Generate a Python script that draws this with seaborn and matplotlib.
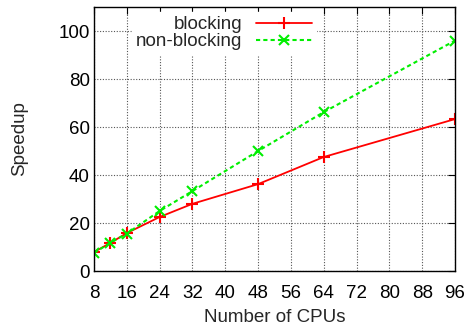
import matplotlib
matplotlib.use("Agg")
import matplotlib.pyplot as plt
import seaborn as sns
import pandas as pd

cpus = [8, 12, 16, 24, 32, 48, 64, 96]
blocking = [7.9, 11.7, 15.8, 22.5, 28.0, 36.2, 47.5, 63.3]
nonblocking = [7.5, 11.8, 15.6, 25.0, 33.3, 50.0, 66.2, 96.0]
xticks = [8, 16, 24, 32, 40, 48, 56, 64, 72, 80, 88, 96]
yticks = [0, 20, 40, 60, 80, 100]

sns.set_style("white")
plt.rcParams['font.family'] = ['Liberation Sans', 'DejaVu Sans']

fig = plt.figure(figsize=(4.71, 3.26), dpi=100)
ax = fig.add_axes([94/471, 55/326, 361/471, 264/326])

df_b = pd.DataFrame({"cpus": cpus, "speedup": blocking})
df_n = pd.DataFrame({"cpus": cpus, "speedup": nonblocking})
sns.lineplot(data=df_b, x="cpus", y="speedup", ax=ax, color="#ff0000", lw=1.3,
             marker="+", markersize=9, markeredgewidth=1.5, markeredgecolor="#ff0000",
             label="blocking")
sns.lineplot(data=df_n, x="cpus", y="speedup", ax=ax, color="#00ee00", lw=1.5,
             linestyle=(0, (2, 1.5)), marker="x", markersize=7, markeredgewidth=1.5,
             markeredgecolor="#00ee00", label="non-blocking")

ax.set_xlim(8, 96)
ax.set_ylim(0, 110)
ax.set_xticks(xticks)
ax.set_yticks(yticks)
ax.tick_params(direction="in", length=5, width=0.8, top=True, right=True, labelsize=13.5, colors="black")
ax.tick_params(axis="x", pad=10)
ax.tick_params(axis="y", pad=3)
ax.grid(True, color="#555555", linestyle=(0, (1, 1.5)), linewidth=0.8)
for s in ax.spines.values():
    s.set_color("black")
    s.set_linewidth(1.0)
ax.set_xlabel("Number of CPUs", fontsize=13.5, labelpad=5)
ax.set_ylabel("Speedup", fontsize=13.5, labelpad=22)

leg = ax.legend(loc="upper left", bbox_to_anchor=(0.08, 1.015), markerfirst=False,
                frameon=True, fontsize=13.5, handlelength=3.0, borderpad=0.2,
                labelspacing=0.0, handletextpad=0.7)
leg.get_frame().set_facecolor("white")
leg.get_frame().set_edgecolor("white")
leg.get_frame().set_alpha(1.0)
for t in leg.get_texts():
    t.set_ha("right")
leg._legend_box.align = "right"

fig.savefig("out.png", dpi=100)
